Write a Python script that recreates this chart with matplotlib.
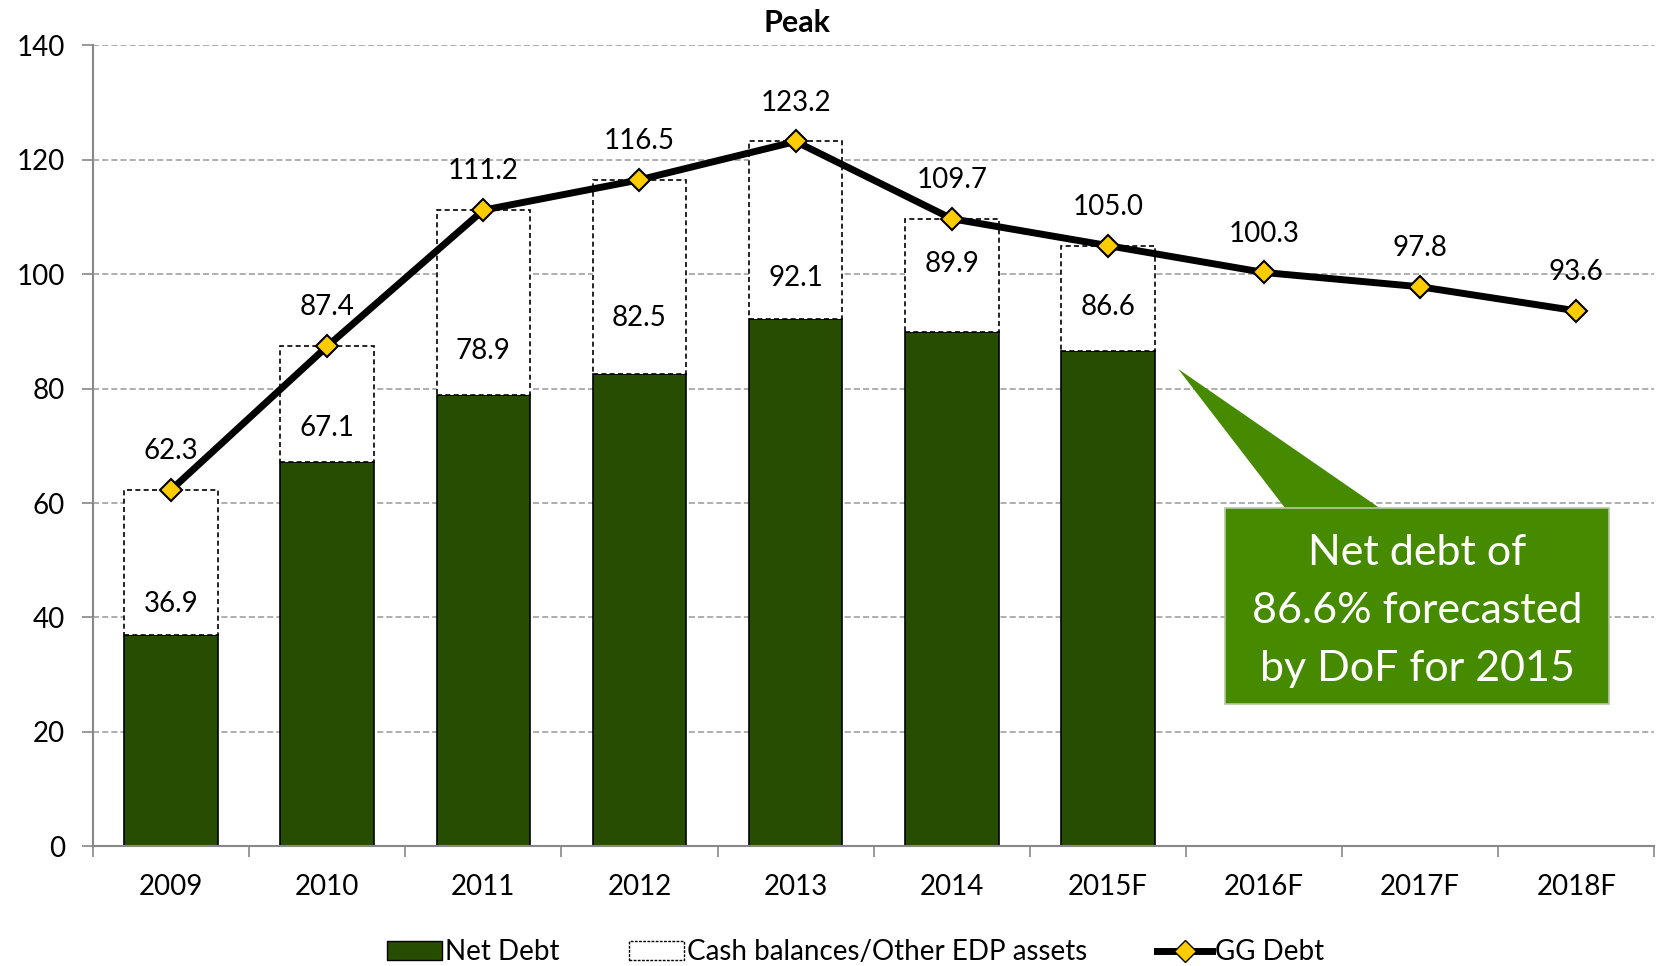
import matplotlib.pyplot as plt
from matplotlib.patches import Polygon, Rectangle
from matplotlib.lines import Line2D
from matplotlib.patches import Patch
import numpy as np

plt.rcParams['font.family'] = ['Lato', 'DejaVu Sans']

years = ["2009", "2010", "2011", "2012", "2013", "2014", "2015F", "2016F", "2017F", "2018F"]
net_debt = [36.9, 67.1, 78.9, 82.5, 92.1, 89.9, 86.6]
gg_debt = [62.3, 87.4, 111.2, 116.5, 123.2, 109.7, 105.0, 100.3, 97.8, 93.6]
net_label_offset = [5.5, 6.0, 7.6, 9.9, 7.3, 11.8, 7.7]

x = np.arange(len(years))
xb = x[:len(net_debt)]
cash = [g - n for g, n in zip(gg_debt, net_debt)]

fig = plt.figure(figsize=(16.61, 9.66), dpi=100)
ax = fig.add_axes([0.056, 0.124, 0.94, 0.829])

ax.bar(xb, net_debt, width=0.6, color="#264d00", edgecolor="black", linewidth=1.2, zorder=2)
ax.bar(xb, cash, bottom=net_debt, width=0.6, color="white", edgecolor="black",
       linewidth=1.2, linestyle=(0, (3, 2)), zorder=2)
ax.plot(x, gg_debt, color="black", linewidth=5, marker="D", markersize=11,
        markerfacecolor="#ffcc00", markeredgecolor="black", markeredgewidth=1.5, zorder=4)

for i, v in enumerate(gg_debt):
    ax.annotate(f"{v:.1f}", (x[i], v), xytext=(0, 28), textcoords="offset points",
                ha="center", va="center", fontsize=20, zorder=5)
for i, v in enumerate(net_debt):
    ax.text(xb[i], v + net_label_offset[i], f"{v:.1f}", ha="center", va="center",
            fontsize=20, zorder=5)

ax.set_xlim(-0.5, len(years) - 0.5)
ax.set_ylim(0, 140)
ax.set_yticks(range(0, 141, 20))
ax.set_xticks(x)
ax.set_xticklabels(years)
ax.set_xticks(np.arange(-0.5, len(years), 1), minor=True)
ax.tick_params(axis="x", which="major", length=0, labelsize=20, pad=20)
ax.tick_params(axis="x", which="minor", length=8, color="#888888", width=1.2)
ax.tick_params(axis="y", length=8, color="#888888", width=1.2, labelsize=20, pad=12)
ax.grid(axis="y", linestyle=(0, (4, 2)), color="#999999", linewidth=1.1, zorder=0)
for s in ["top", "right"]:
    ax.spines[s].set_visible(False)
for s in ["left", "bottom"]:
    ax.spines[s].set_color("#888888")
    ax.spines[s].set_linewidth(1.5)

# callout
ax.add_patch(Polygon([(0.695, 0.596), (0.764, 0.421), (0.825, 0.421)], closed=True,
                     transform=ax.transAxes, facecolor="#468a00", edgecolor="none", zorder=6))
ax.add_patch(Rectangle((0.725, 0.177), 0.246, 0.245, transform=ax.transAxes,
                       facecolor="#468a00", edgecolor="#b5c8a0", linewidth=1.2, zorder=6))
ax.text(0.848, 0.294, "Net debt of\n86.6% forecasted\nby DoF for 2015", transform=ax.transAxes,
        ha="center", va="center", color="white", fontsize=31, linespacing=1.65, zorder=7)

fig.text(0.48, 0.976, "Peak", ha="center", va="center", fontsize=22, fontweight="bold")

handles = [
    Patch(facecolor="#264d00", edgecolor="black", label="Net Debt"),
    Patch(facecolor="white", edgecolor="black", linestyle=(0, (2, 1)), label="Cash balances/Other EDP assets"),
    Line2D([0], [0], color="black", linewidth=5, marker="D", markersize=11,
           markerfacecolor="#ffcc00", markeredgecolor="black", label="GG Debt"),
]
fig.legend(handles=handles, loc="center", bbox_to_anchor=(0.515, 0.014), ncol=3, frameon=False,
           fontsize=20, handlelength=2.0, handletextpad=0.1, columnspacing=2.5)

fig.savefig("out.png", dpi=100)
